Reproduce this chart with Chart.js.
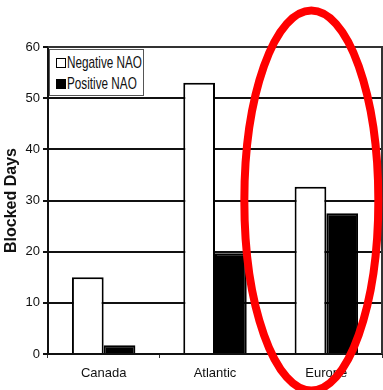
<!DOCTYPE html>
<html>
<head>
<meta charset="utf-8">
<script src="https://cdn.jsdelivr.net/npm/chart.js@4"></script>
<style>
html,body{margin:0;padding:0;background:#fff;}
#wrap{position:relative;width:383px;height:390px;}
#legend{position:absolute;left:49px;top:49px;width:95px;height:47px;border:1px solid #555;background:#fff;font-family:"Liberation Sans",Arial,sans-serif;font-size:17px;color:#111;box-sizing:border-box;white-space:nowrap;}
#legend .row{position:absolute;left:6px;height:20px;line-height:20px;}
#legend .sw{position:absolute;left:0;top:5px;width:10px;height:10px;border:1.5px solid #000;box-sizing:border-box;}
#legend .tx{position:absolute;left:11px;top:0;display:inline-block;transform:scaleX(0.69);transform-origin:0 50%;}
</style>
</head>
<body>
<div id="wrap">
<canvas id="c" width="383" height="390"></canvas>
<div id="legend">
  <div class="row" style="top:3px"><span class="sw" style="background:#fff"></span><span class="tx">Negative NAO</span></div>
  <div class="row" style="top:24px"><span class="sw" style="background:#000"></span><span class="tx">Positive NAO</span></div>
</div>
</div>
<script>
const categories = ["Canada", "Atlantic", "Europe"];
const negativeNAO = [15, 53, 32.7];
const positiveNAO = [1.7, 19.7, 27.5];
const seriesNames = ["Negative NAO", "Positive NAO"];
const yTicks = [0, 10, 20, 30, 40, 50, 60];

const FONT = "'Liberation Sans', Arial, sans-serif";

const highlight = {
  id: 'highlight',
  afterDraw(chart) {
    const x = chart.scales.x, y = chart.scales.y;
    const cx = x.getPixelForValue(2) - 15;
    const cy = (y.getPixelForValue(60) + y.getPixelForValue(0)) / 2 + 0;
    const ctx = chart.ctx;
    ctx.save();
    ctx.strokeStyle = '#ff0000';
    ctx.lineWidth = 8;
    ctx.beginPath();
    ctx.ellipse(cx, cy, 67, 190, 0, 0, Math.PI * 2);
    ctx.stroke();
    ctx.restore();
  }
};

new Chart(document.getElementById('c'), {
  type: 'bar',
  data: {
    labels: categories,
    datasets: [
      { label: seriesNames[0], data: negativeNAO, backgroundColor: '#fff', borderColor: '#000', borderWidth: 2, barPercentage: 1, categoryPercentage: 0.57 },
      { label: seriesNames[1], data: positiveNAO, backgroundColor: '#000', borderColor: '#000', borderWidth: 2, barPercentage: 1, categoryPercentage: 0.57 }
    ]
  },
  options: {
    responsive: false,
    animation: false,
    layout: { padding: { top: 47, right: 1, left: 0, bottom: 0 } },
    plugins: { legend: { display: false }, tooltip: { enabled: false } },
    scales: {
      x: {
        grid: { display: true, drawOnChartArea: false, color: '#333', tickLength: 4, offset: true },
        border: { color: '#111', width: 2 },
        ticks: { color: '#111', font: { family: FONT, size: 13 }, padding: 8 },
        afterFit(s) { s.height = 36; }
      },
      y: {
        min: 0, max: 60,
        afterBuildTicks(s) { s.ticks = yTicks.map(v => ({ value: v })); },
        grid: { color: '#111', lineWidth: 2, tickLength: 5 },
        border: { color: '#111', width: 2 },
        ticks: { color: '#111', font: { family: FONT, size: 13 }, padding: 3 },
        title: { display: true, text: 'Blocked Days', color: '#111', font: { family: FONT, size: 16, weight: 'bold' }, padding: 2 },
        afterFit(s) { s.width = 48; }
      }
    }
  },
  plugins: [{
    id: 'frame',
    afterDatasetsDraw(chart) {
      const a = chart.chartArea, ctx = chart.ctx;
      ctx.save();
      ctx.strokeStyle = '#333';
      ctx.lineWidth = 2;
      ctx.beginPath();
      ctx.moveTo(a.left, a.top);
      ctx.lineTo(a.right, a.top);
      ctx.lineTo(a.right, a.bottom);
      ctx.stroke();
      ctx.restore();
    }
  }, highlight]
});
</script>
</body>
</html>
